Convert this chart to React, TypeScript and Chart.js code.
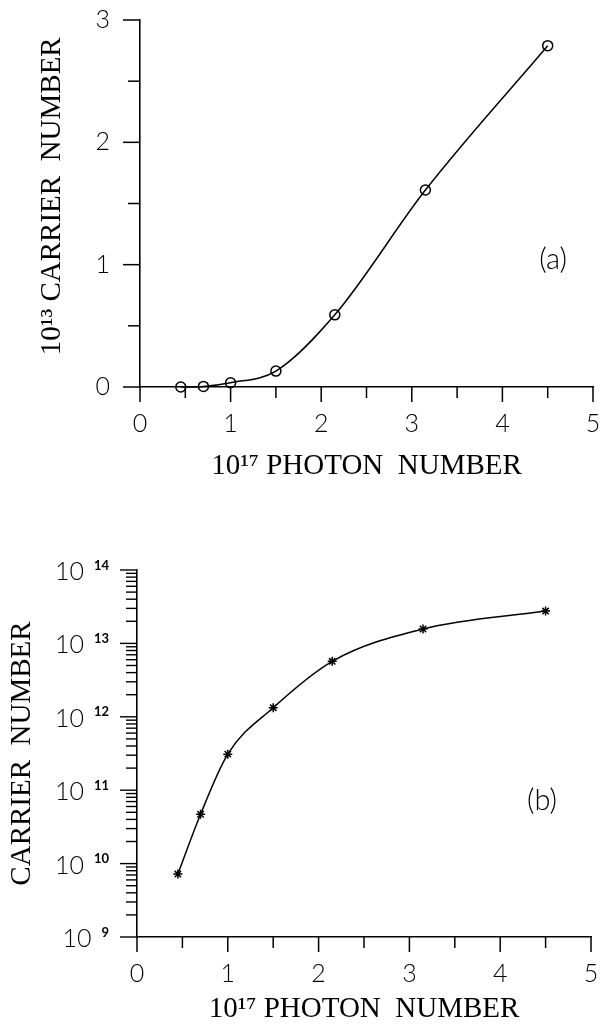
import React, { useEffect, useRef } from 'react';
import { Chart, registerables } from 'chart.js';

Chart.register(...registerables);

// ---- data ----
const photonNumber = [0.45, 0.7, 1.0, 1.5, 2.15, 3.15, 4.5]; // 10^17
const carrierLinear = [0.0, 0.005, 0.035, 0.13, 0.59, 1.61, 2.79]; // 10^13
const carrierLog = [7.2e9, 4.7e10, 3.1e11, 1.33e12, 5.7e12, 1.57e13, 2.76e13];

// ---- ticks / labels ----
const xTickValues = [0, 1, 2, 3, 4, 5];
const xMinorTickValues = [0.5, 1.5, 2.5, 3.5, 4.5];
const topYTickValues = [0, 1, 2, 3];
const topYMinorTickValues = [0.5, 1.5, 2.5];
const logDecadeExponents = [9, 10, 11, 12, 13, 14];
const logMinorMultipliers = [2, 3, 4, 5, 6, 7, 8, 9];
const xTitle = '10\u00B9\u2077 PHOTON  NUMBER';
const topYTitle = '  10\u00B9\u00B3 CARRIER  NUMBER';
const bottomYTitle = 'CARRIER  NUMBER';
const panelLabels = ['(a)', '(b)'];
const panelLabelAnchorA = { x: 4.56, y: 1.04 };
const panelLabelAnchorB = { x: 4.46, y: 7.2e10 };

const SERIF = "'Liberation Serif', 'Times New Roman', serif";
const SANS = "Lato, 'Open Sans', 'DejaVu Sans', sans-serif";
const BLACK = '#000';

function line(ctx: CanvasRenderingContext2D, x1: number, y1: number, x2: number, y2: number) {
  ctx.beginPath();
  ctx.moveTo(x1, y1);
  ctx.lineTo(x2, y2);
  ctx.stroke();
}

function xTicksDraw(chart: any) {
  const ctx = chart.ctx as CanvasRenderingContext2D;
  const xs = chart.scales.x;
  const base = xs.top;
  ctx.save();
  ctx.strokeStyle = BLACK;
  ctx.lineWidth = 1.5;
  xTickValues.forEach((v) => {
    const p = xs.getPixelForValue(v);
    line(ctx, p, base, p, base + 15);
  });
  xMinorTickValues.forEach((v) => {
    const p = xs.getPixelForValue(v);
    line(ctx, p, base, p, base + 11);
  });
  ctx.restore();
}

const topTicksPlugin = {
  id: 'topTicks',
  afterDraw(chart: any) {
    const ctx = chart.ctx as CanvasRenderingContext2D;
    xTicksDraw(chart);
    const ys = chart.scales.y;
    const base = ys.right;
    ctx.save();
    ctx.strokeStyle = BLACK;
    ctx.lineWidth = 1.5;
    topYTickValues.forEach((v) => {
      const p = ys.getPixelForValue(v);
      line(ctx, base - 17, p, base, p);
    });
    topYMinorTickValues.forEach((v) => {
      const p = ys.getPixelForValue(v);
      line(ctx, base - 12, p, base, p);
    });
    // panel label
    ctx.fillStyle = BLACK;
    ctx.font = `300 29px ${SANS}`;
    ctx.textAlign = 'center';
    ctx.textBaseline = 'middle';
    ctx.fillText(
      panelLabels[0],
      chart.scales.x.getPixelForValue(panelLabelAnchorA.x),
      ys.getPixelForValue(panelLabelAnchorA.y)
    );
    ctx.restore();
  },
};

const bottomTicksPlugin = {
  id: 'bottomTicks',
  afterDraw(chart: any) {
    const ctx = chart.ctx as CanvasRenderingContext2D;
    xTicksDraw(chart);
    const ys = chart.scales.y;
    const base = ys.right;
    ctx.save();
    ctx.strokeStyle = BLACK;
    ctx.lineWidth = 1.4;
    logDecadeExponents.forEach((e, i) => {
      const p = ys.getPixelForValue(Math.pow(10, e));
      line(ctx, base - 17, p, base, p);
      if (i < logDecadeExponents.length - 1) {
        logMinorMultipliers.forEach((m) => {
          const q = ys.getPixelForValue(m * Math.pow(10, e));
          line(ctx, base - 11, q, base, q);
        });
      }
    });
    // y tick labels: 10 with exponent
    ctx.fillStyle = BLACK;
    const labelRight = base - 28;
    logDecadeExponents.forEach((e) => {
      const p = ys.getPixelForValue(Math.pow(10, e));
      ctx.font = `bold 13px ${SANS}`;
      ctx.textAlign = 'right';
      ctx.textBaseline = 'top';
      const expText = String(e);
      const w = ctx.measureText(expText).width;
      ctx.fillText(expText, labelRight, p - 11);
      ctx.font = `300 25px ${SANS}`;
      ctx.textBaseline = 'middle';
      ctx.fillText('10', labelRight - w - 10, p + 2);
    });
    // panel label
    ctx.font = `300 29px ${SANS}`;
    ctx.textAlign = 'center';
    ctx.textBaseline = 'middle';
    ctx.fillText(
      panelLabels[1],
      chart.scales.x.getPixelForValue(panelLabelAnchorB.x),
      ys.getPixelForValue(panelLabelAnchorB.y)
    );
    ctx.restore();
  },
};

const tickFont = { family: SANS, size: 25, weight: 300 as any };

function xScale(height: number, titlePadBottom: number) {
  return {
    type: 'linear',
    min: 0,
    max: 5,
    afterFit: (s: any) => {
      s.height = height;
      s.paddingLeft = 0;
      s.paddingRight = 0;
      s.paddingTop = 0;
      s.paddingBottom = 0;
    },
    ticks: { stepSize: 1, font: tickFont, color: BLACK, padding: 7, maxRotation: 0 },
    grid: { drawOnChartArea: false, tickLength: 15, color: 'rgba(0,0,0,0)' },
    border: { display: true, color: BLACK, width: 1.6 },
    title: {
      display: true,
      text: xTitle,
      color: BLACK,
      font: { family: SERIF, size: 29, lineHeight: 1 },
      padding: { top: 0, bottom: titlePadBottom },
    },
  };
}

function yFit(width: number) {
  return (s: any) => {
    s.width = width;
    s.paddingLeft = 0;
    s.paddingRight = 0;
    s.paddingTop = 0;
    s.paddingBottom = 0;
  };
}

function buildTop(canvas: HTMLCanvasElement) {
  return new Chart(canvas, {
    type: 'line',
    data: {
      datasets: [
        {
          data: photonNumber.map((x, i) => ({ x, y: carrierLinear[i] })),
          borderColor: BLACK,
          borderWidth: 1.5,
          backgroundColor: 'rgba(0,0,0,0)',
          pointStyle: 'circle',
          pointRadius: 5,
          pointBorderWidth: 1.5,
          pointBorderColor: BLACK,
          pointBackgroundColor: 'rgba(0,0,0,0)',
          cubicInterpolationMode: 'monotone',
          fill: false,
          clip: false as any,
        },
      ],
    },
    options: {
      responsive: false,
      animation: false,
      layout: { autoPadding: false, padding: { top: 20, right: 7, left: 0, bottom: 0 } },
      plugins: { legend: { display: false }, tooltip: { enabled: false } },
      scales: {
        x: xScale(123, 29) as any,
        y: {
          type: 'linear',
          min: 0,
          max: 3,
          afterFit: yFit(140),
          ticks: { stepSize: 1, font: tickFont, color: BLACK, padding: 13 },
          grid: { drawOnChartArea: false, tickLength: 17, color: 'rgba(0,0,0,0)' },
          border: { display: true, color: BLACK, width: 1.6 },
          title: {
            display: true,
            text: topYTitle,
            color: BLACK,
            font: { family: SERIF, size: 29, lineHeight: 1 },
            padding: { top: 38, bottom: 0 },
          },
        },
      },
    },
    plugins: [topTicksPlugin],
  } as any);
}

function buildBottom(canvas: HTMLCanvasElement) {
  return new Chart(canvas, {
    type: 'line',
    data: {
      datasets: [
        {
          data: photonNumber.map((x, i) => ({ x, y: carrierLog[i] })),
          borderColor: BLACK,
          borderWidth: 1.5,
          backgroundColor: 'rgba(0,0,0,0)',
          pointStyle: 'star',
          pointRadius: 4.5,
          pointBorderWidth: 1.5,
          pointBorderColor: BLACK,
          pointBackgroundColor: 'rgba(0,0,0,0)',
          cubicInterpolationMode: 'monotone',
          fill: false,
          clip: false as any,
        },
      ],
    },
    options: {
      responsive: false,
      animation: false,
      layout: { autoPadding: false, padding: { top: 60, right: 9, left: 0, bottom: 0 } },
      plugins: { legend: { display: false }, tooltip: { enabled: false } },
      scales: {
        x: xScale(95, 8) as any,
        y: {
          type: 'logarithmic',
          min: 1e9,
          max: 1e14,
          afterFit: yFit(137),
          ticks: { display: false },
          grid: { drawOnChartArea: false, tickLength: 17, color: 'rgba(0,0,0,0)' },
          border: { display: true, color: BLACK, width: 1.6 },
          title: {
            display: true,
            text: bottomYTitle,
            color: BLACK,
            font: { family: SERIF, size: 29, lineHeight: 1 },
            padding: { top: 8, bottom: 0 },
          },
        },
      },
    },
    plugins: [bottomTicksPlugin],
  } as any);
}

function ChartCanvas({ height, build }: { height: number; build: (c: HTMLCanvasElement) => Chart }) {
  const ref = useRef<HTMLCanvasElement>(null);
  useEffect(() => {
    const chart = build(ref.current as HTMLCanvasElement);
    return () => chart.destroy();
  }, []);
  return <canvas ref={ref} width={600} height={height} style={{ display: 'block', width: 600, height }} />;
}

export default function App() {
  return (
    <div style={{ position: 'absolute', left: 0, top: 0, width: 600, height: 1032, background: '#fff' }}>
      <ChartCanvas height={510} build={buildTop} />
      <ChartCanvas height={522} build={buildBottom} />
    </div>
  );
}
